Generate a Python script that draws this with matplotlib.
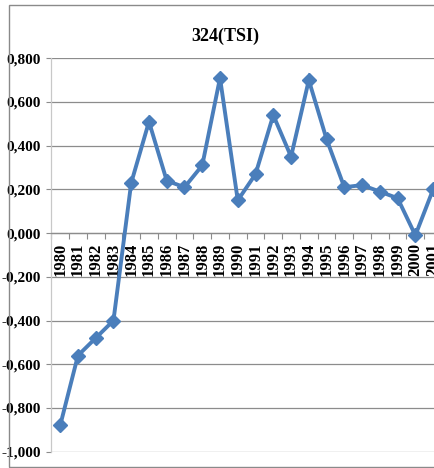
import matplotlib
matplotlib.use("Agg")
import matplotlib.pyplot as plt
from matplotlib.patches import Rectangle
from matplotlib.ticker import FuncFormatter, FixedLocator

years = [str(y) for y in range(1980, 2002)]
values = [-0.88, -0.56, -0.48, -0.40, 0.23, 0.51, 0.24, 0.21, 0.31, 0.71,
          0.15, 0.27, 0.54, 0.35, 0.70, 0.43, 0.21, 0.22, 0.19, 0.16, -0.01, 0.20]
title = "324(TSI)"
yticks = [-1.0, -0.8, -0.6, -0.4, -0.2, 0.0, 0.2, 0.4, 0.6, 0.8]

W, H = 435, 468
fig = plt.figure(figsize=(W / 100, H / 100), dpi=100)
fig.patch.set_facecolor("white")

# outer chart frame
fig.patches.append(Rectangle((9 / W, 1 - 466.5 / H), 1.2, 461.5 / H,
                             transform=fig.transFigure, fill=False,
                             edgecolor="#8a8a8a", linewidth=1.0))

left, right = 51.3, 442
bottom, top = 451.7, 58.3
ax = fig.add_axes([left / W, 1 - bottom / H, (right - left) / W, (bottom - top) / H])
ax.set_facecolor("white")

x = list(range(len(years)))
ax.plot(x, values, color="#4A7EBB", linewidth=2.8, marker="D", markersize=7.5,
        markerfacecolor="#4A7EBB", markeredgecolor="#4A7EBB", zorder=3,
        solid_joinstyle="miter")

ax.set_xlim(-0.5, len(years) - 0.5)
ax.set_ylim(-1.0, 0.8)
ax.set_yticks(yticks)
ax.yaxis.set_major_formatter(FuncFormatter(lambda v, p: f"{v:.3f}".replace(".", ",")))
ax.grid(axis="y", color="#8c8c8c", linewidth=0.9)
ax.set_axisbelow(True)

for s in ["top", "right"]:
    ax.spines[s].set_visible(False)
ax.spines["left"].set_color("#c8c8c8")
ax.spines["left"].set_linewidth(0.9)
ax.spines["bottom"].set_position(("data", 0))
ax.spines["bottom"].set_color("#8c8c8c")
ax.spines["bottom"].set_linewidth(0.9)

ax.tick_params(axis="y", length=3.5, width=0.8, color="#8c8c8c", pad=4)
for lab in ax.get_yticklabels():
    lab.set_fontfamily("Liberation Serif")
    lab.set_fontweight("bold")
    lab.set_fontsize(11)

ax.set_xticks(x)
ax.set_xticklabels(years, rotation=90, fontfamily="Liberation Serif",
                   fontweight="bold", fontsize=12)
ax.xaxis.set_minor_locator(FixedLocator([i + 0.5 for i in range(-1, len(years))]))
ax.tick_params(axis="x", which="major", length=0, pad=7)
ax.tick_params(axis="x", which="minor", length=4.5, width=0.8, color="#8c8c8c",
               direction="out")

fig.text(225 / W, 1 - 36 / H, title, ha="center", va="center",
         fontfamily="Liberation Serif", fontweight="bold", fontsize=13)

fig.savefig("out.png", dpi=100)
